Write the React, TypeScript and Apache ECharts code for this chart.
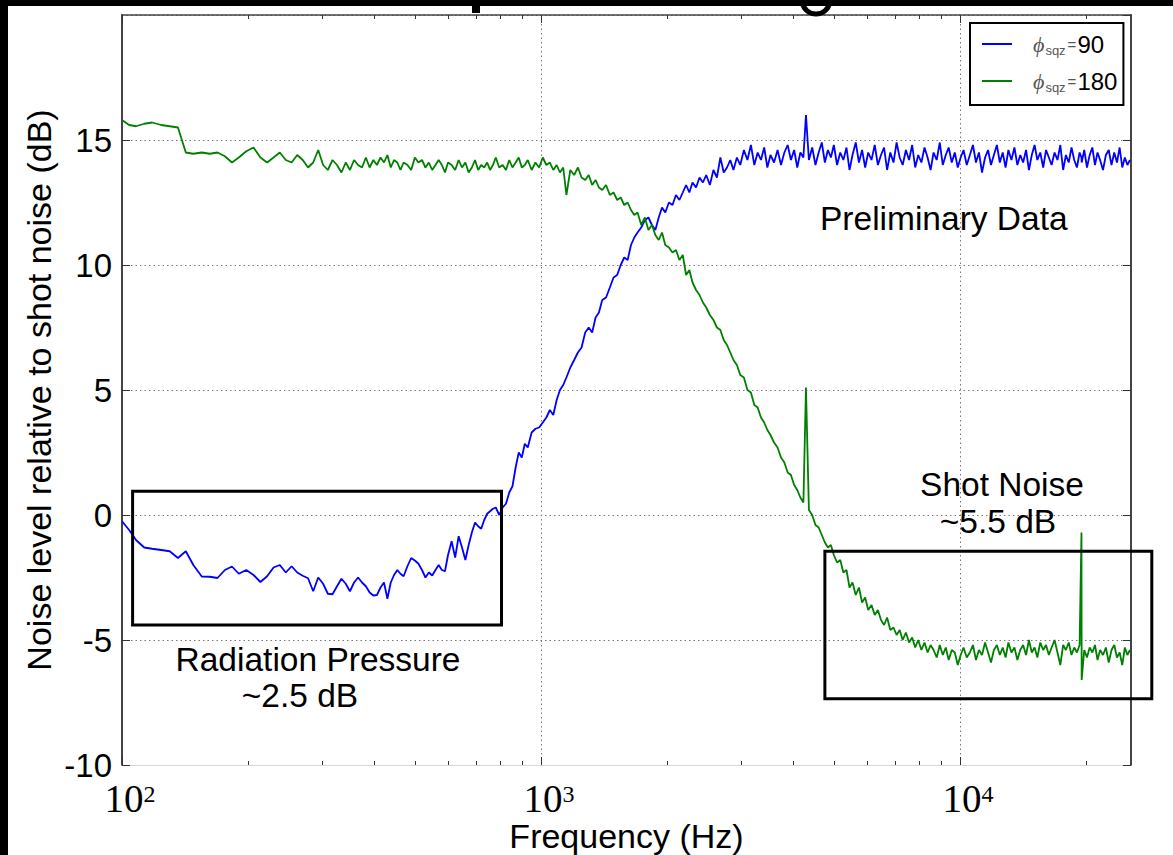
import React, { useEffect, useRef } from "react";
import * as echarts from "echarts";

// Frequency bins (Hz), shared by both traces
const freqHz = [
  100, 104, 108, 113, 118, 124, 130, 136, 142, 148,
  155, 162, 169, 176, 183, 190, 198, 206, 214, 222,
  230, 238, 246, 254, 262, 270, 278, 286, 294, 302,
  310, 318, 326, 334, 342, 350, 358, 366, 374, 382,
  390, 398, 406, 414, 422, 430, 438, 446, 454, 462,
  470, 480, 490, 500, 510, 520, 530, 540, 550, 560,
  570, 580, 590, 600, 612, 624, 636, 648, 660, 672,
  684, 696, 708, 720, 732, 744, 756, 768, 780, 795,
  810, 825, 840, 855, 870, 885, 900, 915, 930, 950,
  970, 990, 1010, 1030, 1050, 1070, 1090, 1110, 1130, 1150,
  1175, 1200, 1225, 1250, 1275, 1300, 1325, 1350, 1375, 1400,
  1430, 1460, 1490, 1520, 1550, 1580, 1610, 1640, 1670, 1700,
  1735, 1770, 1805, 1840, 1875, 1910, 1945, 1980, 2020, 2060,
  2100, 2140, 2180, 2220, 2260, 2300, 2345, 2390, 2435, 2480,
  2530, 2580, 2630, 2680, 2730, 2780, 2830, 2880, 2935, 2990,
  3050, 3110, 3170, 3230, 3290, 3350, 3410, 3470, 3530, 3600,
  3670, 3740, 3810, 3880, 3950, 4020, 4090, 4160, 4230, 4290,
  4360, 4440, 4520, 4600, 4680, 4760, 4840, 4920, 5000, 5090,
  5180, 5270, 5360, 5450, 5540, 5640, 5740, 5840, 5940, 6040,
  6150, 6260, 6370, 6480, 6590, 6700, 6820, 6940, 7060, 7180,
  7300, 7430, 7560, 7690, 7820, 7950, 8090, 8230, 8370, 8510,
  8650, 8800, 8950, 9100, 9250, 9400, 9560, 9720, 9880, 10040,
  10200, 10380, 10560, 10740, 10920, 11100, 11290, 11480, 11670, 11860,
  12050, 12250, 12450, 12650, 12850, 13050, 13270, 13490, 13710, 13930,
  14150, 14380, 14610, 14840, 15070, 15300, 15550, 15800, 16050, 16300,
  16550, 16820, 17090, 17360, 17630, 17900, 18180, 18460, 18740, 19020,
  19300, 19500, 19520, 19800, 20100, 20400, 20700, 21000, 21300, 21600,
  21950, 22300, 22650, 23000, 23350, 23700, 24050, 24400, 24750, 25100,
  25450,
];

// phi_sqz = 90 (dB relative to shot noise)
const phi90Db = [
  -0.25, -0.6, -1.0, -1.3, -1.35, -1.4, -1.45, -1.72, -1.45, -2.0,
  -2.46, -2.47, -2.52, -2.2, -2.06, -2.35, -2.2, -2.4, -2.68, -2.45,
  -2.1, -2.0, -2.3, -2.05, -2.3, -2.43, -2.53, -3.05, -2.5, -2.75,
  -3.15, -3.17, -2.85, -2.55, -2.75, -3.05, -2.7, -2.5, -2.7, -2.85,
  -3.1, -3.22, -3.2, -2.9, -2.7, -3.35, -2.7, -2.4, -2.2, -2.35,
  -2.45, -2.05, -1.72, -1.82, -1.95, -2.2, -2.5, -2.3, -2.42, -2.2,
  -2.0, -2.2, -2.25, -1.6, -1.05, -1.7, -0.85, -1.3, -1.8, -1.2,
  -0.7, -0.3, -0.45, -0.55, -0.2, 0.05, 0.15, 0.25, 0.3, 0.0,
  0.3, 0.45, 0.9, 1.15, 1.9, 2.5, 2.3, 2.85, 2.7, 3.3,
  3.45, 3.5, 3.7, 3.9, 4.2, 4.0, 4.6, 5.0, 5.2, 5.5,
  5.9, 6.2, 6.5, 6.7, 7.3, 7.5, 7.3, 7.9, 8.1, 8.6,
  8.7, 9.1, 9.5, 9.6, 10.0, 10.3, 10.2, 10.8, 11.1, 11.3,
  11.5, 11.8, 11.9, 11.6, 11.4, 11.9, 12.3, 12.1, 12.5, 12.4,
  12.8, 12.6, 12.9, 13.2, 12.9, 13.3, 13.1, 13.5, 13.3, 13.6,
  13.2, 13.8, 13.5, 14.3, 13.7, 13.9, 14.2, 13.8, 14.3, 14.0,
  14.6, 14.2, 14.8, 14.0, 14.5, 14.2, 14.7, 13.9, 14.4, 14.1,
  14.6, 14.0, 14.5, 14.8, 14.2, 14.6, 13.9, 14.5, 14.3, 16.0,
  14.2, 14.7, 14.0, 14.5, 14.9, 14.1, 14.6, 14.3, 14.8, 14.0,
  14.5, 14.2, 14.7, 13.8, 14.4, 14.9, 14.1, 14.6, 13.9, 14.5,
  14.2, 14.8, 14.0, 14.4, 14.7, 13.8, 14.5, 14.1, 14.9, 14.3,
  14.0, 14.6, 14.2, 14.8, 13.9, 14.4, 14.1, 14.7, 14.3, 13.8,
  14.5, 14.2, 14.9, 14.0, 14.4, 14.7, 14.1, 14.5, 13.9, 14.3,
  14.6, 14.0, 14.4, 14.8, 14.1, 14.5, 13.7, 14.3, 14.6, 14.0,
  14.4, 14.8, 14.1, 14.5, 13.9, 14.6, 14.2, 14.7, 14.0, 14.4,
  14.1, 14.6, 13.8, 14.4, 14.8, 14.2, 14.5, 13.9, 14.6, 14.3,
  14.0, 14.5, 14.2, 14.8, 13.8, 14.4, 14.1, 14.7, 14.2, 13.9,
  14.5, 14.3, 14.1, 14.6, 13.9, 14.4, 14.7, 14.0, 14.5, 14.2,
  13.8, 14.4, 14.6, 14.0, 14.5, 14.1, 14.7, 13.9, 14.3, 14.0,
  14.2,
];

// phi_sqz = 180 (dB relative to shot noise)
const phi180Db = [
  15.8, 15.6, 15.55, 15.65, 15.7, 15.6, 15.55, 15.5, 14.5, 14.45,
  14.5, 14.45, 14.5, 14.35, 14.1, 14.3, 14.55, 14.7, 14.3, 14.1,
  14.3, 14.5, 14.2, 14.1, 14.4, 14.2, 13.9, 14.1, 14.6, 14.0,
  13.8, 14.2, 14.0, 13.7, 14.1, 13.8, 14.2, 14.0, 13.9, 14.3,
  13.9, 14.2, 14.0, 14.3, 14.1, 14.4, 13.9, 14.2, 14.1, 13.8,
  14.1, 14.0, 13.8, 14.3, 14.1, 14.2, 13.9, 14.1, 13.8, 14.0,
  14.2, 14.0, 13.7, 14.1, 14.0, 13.8, 14.2, 13.9, 14.1, 13.7,
  13.9, 14.2, 13.8, 14.0, 13.9, 14.1, 13.8, 14.0, 14.3, 13.9,
  14.0, 13.8, 14.2, 13.9, 14.1, 14.3, 13.9, 14.0, 14.2, 13.8,
  14.1, 13.9, 14.3, 14.0, 14.1, 13.8, 14.0, 13.7, 13.9, 12.8,
  13.8, 13.6, 13.9, 13.5, 13.4, 13.6, 13.2, 13.4, 13.1, 13.0,
  13.2, 12.8, 12.9, 12.6, 12.7, 12.4, 12.5, 12.2, 12.0, 12.1,
  11.6, 11.9, 11.4, 11.6, 11.2, 11.0, 11.3, 10.8, 10.7, 10.5,
  10.6, 10.2, 10.4, 9.6, 9.8, 9.3, 9.0, 8.8, 8.5, 8.3,
  8.0, 7.8, 7.5, 7.4, 7.0, 6.8, 6.5, 6.2, 6.0, 5.6,
  5.5, 5.0, 4.9, 4.4, 4.3, 3.9, 3.7, 3.4, 3.2, 2.9,
  2.7, 2.3, 2.1, 1.7, 1.6, 1.2, 1.0, 0.7, 0.5, 5.1,
  0.2, 0.0, -0.4, -0.5, -0.8, -1.1, -1.3, -1.2, -1.6, -1.9,
  -1.8, -2.3, -2.2, -2.9, -2.7, -3.2, -2.9, -3.5, -3.3, -3.8,
  -3.6, -4.0, -3.8, -4.2, -4.4, -4.1, -4.6, -4.5, -4.8, -4.6,
  -5.0, -4.7, -5.1, -4.9, -5.3, -5.0, -5.4, -5.1, -5.5, -5.2,
  -5.4, -5.7, -5.2, -5.6, -5.3, -5.8, -5.4, -5.5, -6.0, -5.6,
  -5.3, -5.7, -5.5, -5.2, -5.8, -5.4, -5.6, -5.1, -5.5, -5.9,
  -5.4, -5.2, -5.6, -5.3, -5.7, -5.1, -5.5, -5.3, -5.8, -5.4,
  -5.2, -5.6, -5.0, -5.5, -5.3, -5.7, -5.1, -5.4, -5.2, -5.6,
  -5.3, -5.0, -5.5, -6.0, -5.2, -5.4, -5.1, -5.6, -5.3, -5.5,
  -5.2, -0.7, -6.6, -5.4, -5.7, -5.3, -5.5, -5.2, -5.8, -5.4,
  -5.6, -5.3, -5.9, -5.4, -5.2, -5.7, -5.5, -6.0, -5.3, -5.6,
  -5.4,
];

const seriesNames = ["ϕsqz=90", "ϕsqz=180"];
const majorTicksHz = [100, 1000, 10000];
const minorTicksHz = [200, 300, 400, 500, 600, 700, 800, 900, 2000, 3000, 4000, 5000, 6000, 7000, 8000, 9000, 20000];

// annotation boxes, in data units (Hz, dB)
const radiationBoxHz = [106, 805];
const radiationBoxDb = [0.95, -4.4];
const shotBoxHz = [4760, 28700];
const shotBoxDb = [-1.45, -7.35];

const SANS = "'Liberation Sans', Arial, sans-serif";
const SERIF = "'Liberation Serif', 'Times New Roman', serif";

export default function App() {
  const ref = useRef<HTMLDivElement>(null);

  useEffect(() => {
    if (!ref.current) return;
    const chart = echarts.init(ref.current, undefined, { renderer: "svg", width: 1173, height: 855 });

    const gridLine = { show: true, lineStyle: { color: "#777", type: [1.5, 3] as any, width: 1 } };
    const darkAxis = { show: true, onZero: false, lineStyle: { color: "#444", width: 2 } };
    const baseX = { type: "log" as const, logBase: 10, min: 100, max: 25600, gridIndex: 0 };

    chart.setOption({
      animation: false,
      backgroundColor: "#fff",
      grid: { left: 122, top: 15, width: 1009, height: 750, containLabel: false, outerBoundsMode: "none" },
      legend: {
        orient: "vertical",
        left: 970,
        top: 23,
        padding: [9, 6, 11, 12],
        itemWidth: 30,
        itemHeight: 2,
        itemGap: 12,
        icon: "rect",
        borderColor: "#000",
        borderWidth: 2,
        backgroundColor: "#fff",
        data: seriesNames,
        formatter: (name: string) => `{phi|ϕ}{sub|sqz}{eq|=}{val|${name.split("=")[1]}}`,
        textStyle: {
          rich: {
            phi: { fontFamily: SERIF, fontStyle: "italic", fontSize: 22, color: "#555", padding: [0, 1, 0, 16], lineHeight: 26 },
            sub: { fontFamily: SANS, fontSize: 13, color: "#555", verticalAlign: "bottom", lineHeight: 22 },
            eq: { fontFamily: SANS, fontSize: 15, color: "#555", padding: [0, 1, 0, 2], lineHeight: 26 },
            val: { fontFamily: SANS, fontSize: 24, color: "#000", lineHeight: 26 },
          },
        },
      },
      xAxis: [
        {
          ...baseX,
          position: "bottom",
          name: "Frequency (Hz)",
          nameLocation: "middle",
          nameGap: 54,
          nameMoveOverlap: false,
          nameTextStyle: { fontFamily: SANS, fontSize: 34, color: "#000" },
          axisLine: { show: true, onZero: false, lineStyle: { color: "#d8d8d8", width: 1 } },
          axisTick: { show: true, inside: true, length: 8, customValues: majorTicksHz, lineStyle: { color: "#333", width: 1 } },
          axisLabel: {
            show: true,
            customValues: majorTicksHz,
            margin: 17,
            formatter: (v: number) => `{b|10}{s|${Math.round(Math.log10(v))}}`,
            rich: {
              b: { fontFamily: SERIF, fontSize: 39, color: "#000", verticalAlign: "bottom", lineHeight: 36, padding: [0, 0, 0, 16] },
              s: { fontFamily: SERIF, fontSize: 24, color: "#000", verticalAlign: "top", lineHeight: 22 },
            },
          },
          splitLine: gridLine,
          minorTick: { show: false },
        },
        {
          ...baseX,
          position: "bottom",
          axisLine: { show: false, onZero: false },
          axisTick: { show: true, inside: true, length: 4, customValues: minorTicksHz, lineStyle: { color: "#333", width: 1 } },
          axisLabel: { show: false },
          splitLine: { show: false },
        },
        {
          ...baseX,
          position: "top",
          axisLine: { show: true, onZero: false, lineStyle: { color: "#444", width: 1.5 } },
          axisTick: { show: true, inside: true, length: 8, customValues: majorTicksHz, lineStyle: { color: "#333", width: 1 } },
          axisLabel: { show: false },
          splitLine: { show: false },
        },
        {
          ...baseX,
          position: "top",
          axisLine: { show: false, onZero: false },
          axisTick: { show: true, inside: true, length: 4, customValues: minorTicksHz, lineStyle: { color: "#333", width: 1 } },
          axisLabel: { show: false },
          splitLine: { show: false },
        },
      ],
      yAxis: [
        {
          type: "value",
          min: -10,
          max: 20,
          interval: 5,
          position: "left",
          name: "Noise level relative to shot noise (dB)",
          nameLocation: "middle",
          nameGap: 66,
          nameMoveOverlap: false,
          nameTextStyle: { fontFamily: SANS, fontSize: 34, color: "#000" },
          axisLine: darkAxis,
          axisTick: { show: true, inside: true, length: 8, lineStyle: { color: "#333", width: 1 } },
          axisLabel: { showMaxLabel: false, fontFamily: SANS, fontSize: 33, color: "#000", margin: 10 },
          splitLine: gridLine,
        },
        {
          type: "value",
          min: -10,
          max: 20,
          interval: 5,
          position: "right",
          axisLine: darkAxis,
          axisTick: { show: true, inside: true, length: 8, lineStyle: { color: "#333", width: 1 } },
          axisLabel: { show: false },
          splitLine: { show: false },
        },
      ],
      series: [
        {
          name: seriesNames[0],
          type: "line",
          xAxisIndex: 0,
          yAxisIndex: 0,
          symbol: "none",
          data: freqHz.map((f, i) => [f, phi90Db[i]]),
          lineStyle: { color: "#0000ff", width: 1.8 },
          itemStyle: { color: "#0000ff" },
        },
        {
          name: seriesNames[1],
          type: "line",
          xAxisIndex: 0,
          yAxisIndex: 0,
          symbol: "none",
          data: freqHz.map((f, i) => [f, phi180Db[i]]),
          lineStyle: { color: "#008000", width: 1.8 },
          itemStyle: { color: "#008000" },
        },
      ],
    });

    const px = (f: number, d: number) => chart.convertToPixel({ gridIndex: 0 }, [f, d]) as number[];
    const boxRect = (hz: number[], db: number[]) => {
      const a = px(hz[0], db[0]);
      const b = px(hz[1], db[1]);
      return {
        type: "rect",
        z: 100,
        shape: { x: a[0], y: a[1], width: b[0] - a[0], height: b[1] - a[1] },
        style: { fill: "none", stroke: "#000", lineWidth: 3 },
      };
    };
    const label = (text: string, x: number, y: number, align = "center") => ({
      type: "text",
      z: 100,
      x,
      y,
      style: { text, fontFamily: SANS, fontSize: 33.5, fill: "#000", align, verticalAlign: "middle" },
    });

    chart.setOption({
      graphic: [
        { type: "rect", z: 200, shape: { x: 0, y: 0, width: 1173, height: 6 }, style: { fill: "#000" } },
        { type: "rect", z: 200, shape: { x: 0, y: 0, width: 8, height: 855 }, style: { fill: "#000" } },
        { type: "rect", z: 200, shape: { x: 472, y: 4, width: 8, height: 9 }, style: { fill: "#000" } },
        { type: "arc", z: 200, shape: { cx: 816, cy: 0, r: 14, startAngle: 0.2, endAngle: Math.PI - 0.2 }, style: { stroke: "#000", lineWidth: 5, fill: "none" } },
        boxRect(radiationBoxHz, radiationBoxDb),
        boxRect(shotBoxHz, shotBoxDb),
        label("Preliminary Data", 820, 218, "left"),
        label("Shot Noise", 1002, 484),
        label("~5.5 dB", 998, 521),
        label("Radiation Pressure", 318, 659),
        label("~2.5 dB", 300, 695),
      ],
    });

    return () => chart.dispose();
  }, []);

  return <div ref={ref} style={{ position: "fixed", left: 0, top: 0, width: 1173, height: 855 }} />;
}
